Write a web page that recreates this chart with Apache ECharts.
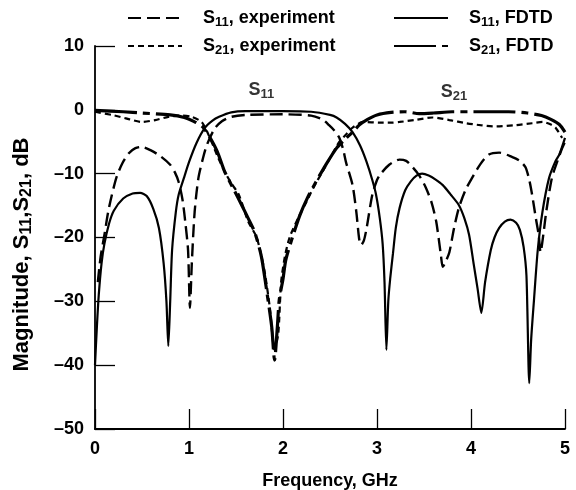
<!DOCTYPE html>
<html>
<head>
<meta charset="utf-8">
<script src="https://cdn.jsdelivr.net/npm/echarts/dist/echarts.min.js"></script>
<style>
  html, body { margin: 0; padding: 0; background: #fff; }
  #chart { width: 576px; height: 490px; }
</style>
</head>
<body>
<div id="chart"></div>
<script>
// Frequency axis (GHz) and magnitude axis (dB)
const freqTicks = [0, 1, 2, 3, 4, 5];
const magTicks = [10, 0, -10, -20, -30, -40, -50];

// [frequency GHz, magnitude dB]
const s11Experiment = [
  [0.03,-27],[0.06,-23],[0.1,-19.6],[0.14,-16],[0.18,-13.3],[0.23,-10.5],[0.29,-8.4],[0.36,-6.8],
  [0.43,-6],[0.5,-5.8],[0.6,-6.4],[0.7,-7.3],[0.8,-8.6],[0.85,-9.8],[0.89,-11.3],[0.93,-14],
  [0.96,-17.5],[0.99,-22],[1.01,-31],[1.03,-24],[1.06,-16],[1.1,-10.7],[1.15,-7.5],[1.19,-5.5],
  [1.27,-3],[1.35,-1.8],[1.45,-1.1],[1.6,-0.8],[2.0,-0.7],[2.3,-0.9],[2.42,-1.5],[2.49,-2.4],
  [2.55,-3.3],[2.6,-4.4],[2.64,-6.2],[2.67,-8.2],[2.74,-11.8],[2.78,-16],[2.81,-20.2],[2.83,-21.2],
  [2.86,-20.5],[2.89,-18.5],[2.95,-13.3],[3.0,-11],[3.03,-10.2],[3.13,-8.6],[3.24,-7.8],[3.31,-8],
  [3.38,-9],[3.45,-10.3],[3.52,-12.2],[3.58,-14.5],[3.63,-17.5],[3.68,-22.8],[3.7,-24.6],[3.73,-23.8],
  [3.77,-22.3],[3.82,-18.5],[3.87,-15.4],[3.94,-12.6],[4.01,-10.7],[4.1,-8.5],[4.19,-7],[4.3,-6.7],
  [4.44,-7.4],[4.52,-8],[4.58,-9],[4.62,-11],[4.65,-13.3],[4.69,-17],[4.72,-19.6],[4.74,-22.3],
  [4.77,-19.5],[4.8,-16],[4.86,-10.7],[4.92,-8],[4.97,-6],[5.0,-5]
];

const s21Experiment = [
  [0,-0.3],[0.18,-0.8],[0.32,-1.3],[0.5,-1.9],[0.64,-1.6],[0.78,-1.1],[0.93,-0.9],[1.03,-1.1],
  [1.14,-2],[1.24,-5],[1.31,-7.5],[1.38,-9.7],[1.45,-11.5],[1.53,-13.3],[1.63,-17.5],[1.72,-20],
  [1.8,-25],[1.86,-31],[1.91,-37.6],[1.95,-35],[1.98,-27],[2.02,-23],[2.07,-20],[2.16,-17],
  [2.25,-14.4],[2.33,-12],[2.42,-9.7],[2.51,-7.3],[2.6,-5],[2.68,-3.7],[2.74,-2.8],[2.85,-1.9],
  [3.03,-2],[3.16,-2],[3.24,-1.9],[3.4,-1.6],[3.59,-1.2],[3.77,-1.6],[3.95,-2.1],[4.1,-2.4],
  [4.27,-2.6],[4.48,-2.4],[4.65,-2.1],[4.76,-1.9],[4.85,-2.3],[4.9,-2.8],[4.97,-4.4]
];

const s11Fdtd = [
  [0.0,-40],[0.02,-34],[0.04,-29],[0.07,-24],[0.1,-21],[0.15,-17.8],[0.2,-15.8],[0.3,-13.9],
  [0.4,-13.1],[0.48,-13],[0.55,-13.5],[0.62,-15.5],[0.68,-18.5],[0.73,-24],[0.76,-30],[0.78,-37],
  [0.8,-30],[0.82,-22],[0.86,-16],[0.89,-13.3],[0.95,-10.5],[1.0,-8.2],[1.08,-5.2],[1.17,-2.8],
  [1.25,-1.7],[1.32,-1.1],[1.45,-0.4],[1.6,-0.2],[2.0,-0.2],[2.3,-0.3],[2.5,-0.8],[2.57,-1.2],
  [2.66,-2.2],[2.74,-3.5],[2.82,-5.6],[2.89,-8.2],[2.95,-11],[2.99,-13.3],[3.03,-17],[3.06,-21],
  [3.08,-27],[3.1,-37.6],[3.12,-30],[3.14,-26.5],[3.17,-22.5],[3.2,-18.5],[3.24,-15.4],[3.3,-12.6],
  [3.36,-11.2],[3.42,-10.3],[3.48,-10],[3.55,-10.3],[3.62,-10.9],[3.7,-11.8],[3.78,-13.2],[3.87,-14.9],
  [3.93,-17],[3.98,-19.6],[4.03,-24.3],[4.07,-28],[4.11,-31.8],[4.15,-27],[4.21,-22],[4.25,-20],
  [4.3,-18.5],[4.36,-17.5],[4.42,-17.2],[4.48,-17.7],[4.52,-18.8],[4.56,-21.5],[4.59,-26],[4.62,-42.8],
  [4.64,-36],[4.67,-29.8],[4.71,-22],[4.76,-16],[4.83,-10.7],[4.9,-8],[4.94,-7],[5.0,-4.4]
];

const s21Fdtd = [
  [0,-0.1],[0.3,-0.3],[0.5,-0.5],[0.8,-0.8],[0.95,-1.2],[1.05,-1.8],[1.14,-2.6],[1.21,-4],
  [1.3,-6.5],[1.38,-9.7],[1.47,-12.3],[1.56,-14.9],[1.63,-17],[1.7,-19.2],[1.77,-23],[1.83,-28.7],
  [1.88,-34],[1.91,-39.2],[1.94,-34],[1.96,-29.8],[2.0,-26.5],[2.03,-23.5],[2.1,-20],[2.18,-16.5],
  [2.26,-13.8],[2.35,-11.3],[2.46,-8.5],[2.57,-6],[2.66,-4.6],[2.74,-3.5],[2.81,-2.4],[2.9,-1.5],
  [3.0,-0.8],[3.15,-0.4],[3.3,-0.3],[3.45,-0.6],[3.6,-0.5],[3.8,-0.3],[4.1,-0.3],[4.4,-0.3],
  [4.6,-0.5],[4.75,-0.9],[4.85,-1.5],[4.94,-2.3],[5.0,-3.5]
];

// In-plot curve labels: [frequency, dB, subscript]
const curveLabels = [[1.77, 3.1, '11'], [3.82, 2.8, '21']];

const FONT = "'Liberation Sans', Arial, Helvetica, sans-serif";
const baseText = { fontFamily: FONT, fontSize: 18, fontWeight: 'bold', color: '#000' };
const subText = { fontFamily: FONT, fontSize: 13, fontWeight: 'bold', color: '#000', padding: [9, 0, 0, 0] };
const rich = { a: baseText, s: subText, g: { width: 16 } };
const richName = {
  a: { fontFamily: FONT, fontSize: 22, fontWeight: 'bold', color: '#000' },
  s: { fontFamily: FONT, fontSize: 16, fontWeight: 'bold', color: '#000', padding: [11, 0, 0, 0] }
};

const legendText = {
  'S11 experiment': '{g|}{a|S}{s|11}{a|, experiment}',
  'S21 experiment': '{g|}{a|S}{s|21}{a|, experiment}',
  'S11 FDTD': '{g|}{a|S}{s|11}{a|, FDTD}',
  'S21 FDTD': '{g|}{a|S}{s|21}{a|, FDTD}'
};

function legendAt(name, left, top) {
  return {
    data: [name], left: left, top: top, selectedMode: false,
    itemWidth: 54, itemHeight: 14, padding: 0,
    itemStyle: { opacity: 0 },
    formatter: n => legendText[n],
    textStyle: { rich: rich }
  };
}

const curve = (name, data, width, type) => ({
  name: name, type: 'line', data: data, symbol: 'none', smooth: 0.25,
  itemStyle: { color: '#000' },
  lineStyle: { color: '#000', width: width, type: type }, z: 3
});

const chart = echarts.init(document.getElementById('chart'), null, { renderer: 'canvas' });
chart.setOption({
  backgroundColor: '#fff',
  animation: false,
  legend: [
    legendAt('S11 experiment', 127, 9),
    legendAt('S21 experiment', 127, 37),
    legendAt('S11 FDTD', 393, 9),
    legendAt('S21 FDTD', 393, 37)
  ],
  grid: { left: 95, right: 11, top: 46, bottom: 61, outerBoundsMode: 'none', containLabel: false },
  xAxis: {
    type: 'value', min: freqTicks[0], max: freqTicks[freqTicks.length - 1], interval: 1,
    name: 'Frequency, GHz', nameLocation: 'middle', nameGap: 43,
    nameTextStyle: baseText,
    axisLine: { onZero: false, lineStyle: { color: '#000', width: 1.8 } },
    axisTick: { inside: true, length: 20, lineStyle: { color: '#000', width: 1.3 } },
    axisLabel: { margin: 11, fontFamily: FONT, fontSize: 18, fontWeight: 'bold', color: '#000' },
    splitLine: { show: false }
  },
  yAxis: {
    type: 'value', min: magTicks[magTicks.length - 1], max: magTicks[0], interval: 10,
    name: '{a|Magnitude, S}{s|11}{a|,S}{s|21}{a|, dB}', nameLocation: 'middle', nameGap: 60,
    nameTextStyle: { rich: richName, padding: [0, 34, 0, 0] },
    axisLine: { onZero: false, lineStyle: { color: '#000', width: 1.8 } },
    axisTick: { inside: true, length: 20, lineStyle: { color: '#000', width: 1.3 } },
    axisLabel: {
      margin: 11, fontFamily: FONT, fontSize: 18, fontWeight: 'bold', color: '#000',
      formatter: v => String(v).replace('-', '\u2013')
    },
    splitLine: { show: false }
  },
  series: [
    curve('S11 experiment', s11Experiment, 2.4, [13, 6]),
    curve('S21 experiment', s21Experiment, 2.2, [6, 4]),
    curve('S11 FDTD', s11Fdtd, 2.2, 'solid'),
    curve('S21 FDTD', s21Fdtd, 3.2, [42, 6, 7, 6]),
    {
      name: 'labels', type: 'scatter', data: curveLabels, symbolSize: 0, silent: true,
      label: {
        show: true, position: 'inside',
        formatter: p => '{a|S}{s|' + p.data[2] + '}',
        rich: rich
      }
    }
  ]
});
</script>
</body>
</html>
